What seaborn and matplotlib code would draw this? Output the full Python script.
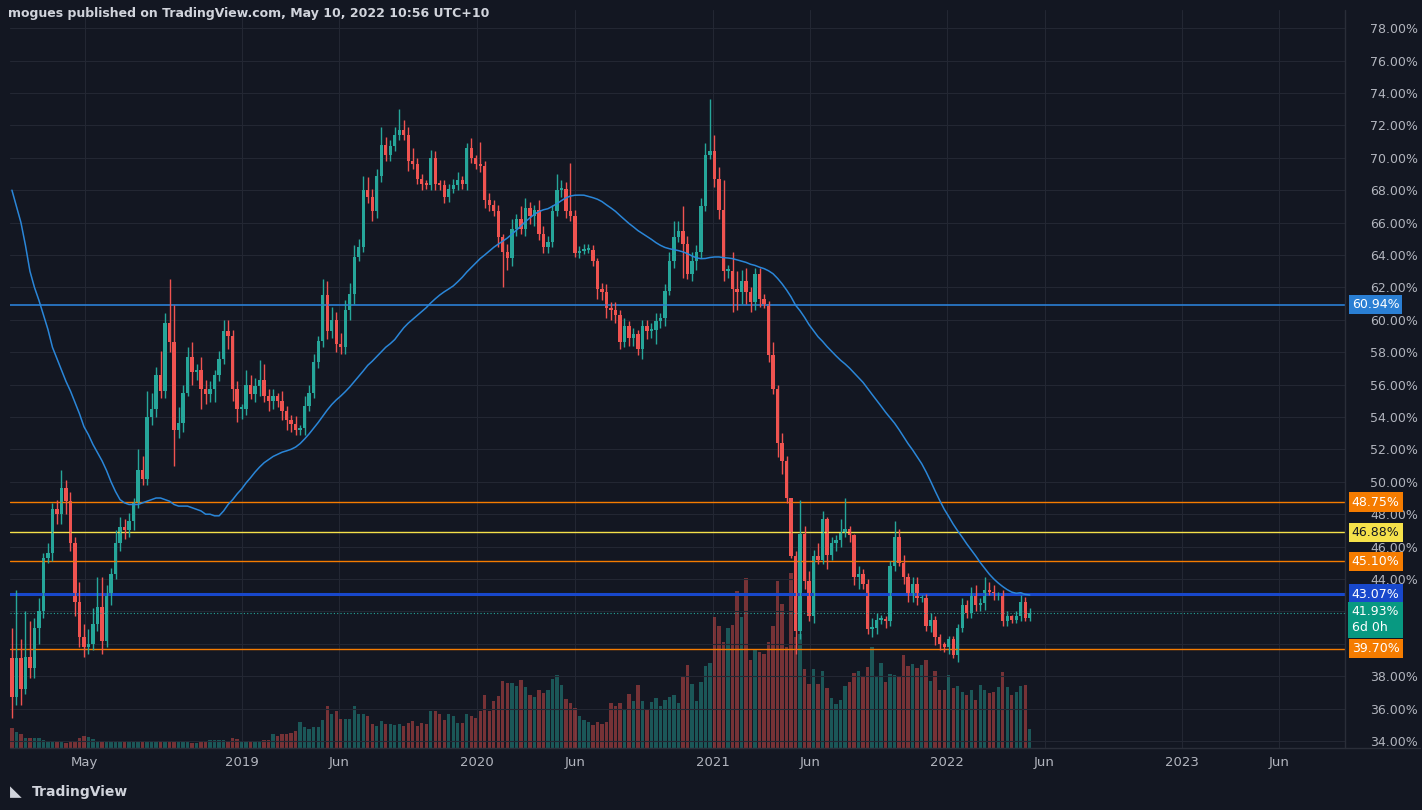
import numpy as np
import pandas as pd
import matplotlib
matplotlib.use("Agg")
import matplotlib.pyplot as plt
import matplotlib.transforms as mtransforms
import seaborn as sns

# ── data (weekly) ────────────────────────────────────────
START = "2018-01-08"
FIRST_OPEN = 39.1

closes = [36.7, 39.1, 37.2, 39.2, 38.5, 41.0, 42.0, 45.3, 45.6, 48.3,
          48.0, 49.6, 48.8, 46.2, 42.6, 40.4, 39.8, 40.0, 41.2, 42.3,
          40.2, 43.0, 44.3, 46.2, 47.2, 47.0, 47.6, 48.7, 50.7, 50.2,
          54.0, 54.5, 56.6, 55.6, 59.8, 58.6, 53.2, 53.6, 55.5, 57.7,
          56.8, 56.9, 55.7, 55.4, 55.7, 56.6, 57.6, 59.3, 59.0, 55.7,
          54.5, 54.5, 56.0, 55.4, 55.9, 56.3, 55.3, 55.0, 55.3, 55.0,
          54.4, 53.8, 53.55, 53.2, 53.3, 54.7, 55.5, 57.4, 58.7, 61.5,
          59.3, 60.0, 58.5, 58.3, 60.6, 61.6, 63.9, 64.5, 68.0, 67.6,
          66.7, 68.9, 70.8, 70.2, 70.7, 71.4, 71.7, 71.4, 69.8, 69.6,
          68.7, 68.4, 68.3, 70.0, 68.4, 68.3, 67.6, 68.1, 68.3, 68.6,
          68.4, 70.6, 70.0, 69.6, 69.5, 67.4, 67.1, 66.7, 65.1, 64.2,
          63.8, 65.6, 66.2, 65.6, 66.9, 66.4, 66.8, 65.3, 64.5, 64.8,
          66.7, 68.0, 68.1, 66.7, 66.4, 64.1, 64.25, 64.3, 64.3, 63.6,
          61.9, 61.7, 60.7, 60.6, 60.3, 58.6, 59.6, 58.9, 59.1, 58.2,
          59.6, 59.3, 59.4, 59.9, 60.1, 61.8, 63.6, 65.1, 65.5, 64.7,
          62.8, 63.6, 64.2, 67.0, 70.2, 70.4, 68.7, 66.8, 63.0, 63.0,
          61.9, 61.7, 62.4, 61.7, 61.1, 62.8, 61.3, 60.95, 57.8, 55.7,
          52.4, 51.3, 49.0, 45.4, 40.8, 46.8, 43.9, 41.7, 45.4, 45.2,
          47.7, 45.5, 46.2, 46.4, 46.9, 47.1, 46.7, 44.1, 44.3, 43.7,
          40.9, 41.0, 41.5, 41.5, 41.4, 44.8, 46.6, 45.0, 44.1, 43.0,
          43.7, 42.8, 42.8, 41.1, 41.5, 40.4, 40.0, 39.8, 40.3, 39.3,
          41.0, 42.4, 41.9, 43.0, 42.4, 42.5, 43.3, 43.2, 43.0, 43.0,
          41.4, 41.7, 41.5, 41.7, 42.6, 41.6, 41.93]

wick_up = [1.9, 4.2, 1.2, 2.8, 2.2, 0.6, 0.8, 0.3, 0.6, 0.4,
           0.6, 1.1, 0.5, 0.6, 0.4, 1.2, 0.8, 0.9, 1.0, 1.8,
           1.8, 0.6, 0.4, 0.8, 0.6, 0.5, 0.5, 0.3, 1.3, 0.9,
           1.6, 1.0, 0.5, 1.5, 0.6, 2.7, 2.3, 1.0, 0.5, 0.6,
           0.9, 0.4, 0.8, 0.6, 0.5, 0.3, 0.5, 0.7, 0.7, 0.4,
           0.5, 0.3, 0.9, 0.6, 0.5, 1.2, 1.0, 0.4, 0.4, 0.2,
           0.6, 0.3, 0.3, 0.5, 0.2, 0.6, 0.5, 0.5, 0.3, 1.0,
           0.9, 0.8, 0.5, 0.7, 0.6, 0.7, 0.7, 0.5, 0.9, 0.8,
           0.5, 0.4, 1.1, 0.5, 0.4, 0.5, 1.3, 0.6, 0.5, 0.8,
           0.4, 0.3, 0.2, 0.5, 0.4, 0.2, 0.3, 0.3, 0.4, 0.5,
           0.3, 0.3, 0.6, 0.2, 1.4, 0.3, 0.4, 0.3, 0.4, 0.2,
           0.5, 0.6, 0.3, 0.8, 0.6, 0.4, 0.3, 0.6, 0.5, 0.4,
           0.4, 1.0, 0.5, 0.4, 3.0, 0.4, 0.3, 0.4, 0.4, 0.3,
           0.2, 0.4, 0.5, 0.4, 0.5, 0.3, 0.5, 0.3, 0.4, 0.3,
           0.4, 0.4, 0.4, 0.5, 0.3, 0.4, 0.6, 1.0, 0.6, 1.5,
           0.5, 0.6, 0.4, 0.5, 0.7, 3.2, 1.0, 0.7, 1.8, 0.4,
           1.2, 1.1, 0.7, 0.8, 0.3, 0.4, 0.4, 0.3, 0.2, 0.8,
           0.3, 0.6, 0.3, 0.0, 0.3, 2.1, 0.5, 0.6, 0.4, 0.8,
           0.5, 0.1, 0.4, 0.3, 0.8, 1.9, 0.2, 0.1, 0.5, 0.3,
           0.3, 0.6, 0.4, 0.3, 0.2, 0.3, 1.0, 0.5, 0.5, 0.3,
           0.4, 0.4, 0.2, 0.3, 0.4, 0.2, 0.2, 0.1, 0.2, 0.2,
           0.2, 0.4, 0.3, 0.5, 0.6, 0.3, 0.8, 0.5, 0.4, 0.2,
           0.3, 0.3, 0.1, 0.3, 0.4, 0.3, 0.3]

wick_dn = [1.3, 0.5, 1.0, 0.3, 0.6, 0.6, 1.0, 0.4, 0.3, 0.5,
           0.6, 0.6, 0.8, 0.5, 0.9, 0.6, 0.6, 0.4, 0.4, 0.4,
           0.8, 0.4, 0.6, 0.3, 0.5, 0.5, 0.4, 0.6, 0.3, 0.4,
           0.4, 0.5, 0.5, 0.4, 0.4, 0.6, 2.2, 0.5, 0.5, 0.2,
           0.8, 0.5, 1.2, 0.6, 0.5, 0.8, 0.4, 0.3, 0.8, 0.7,
           0.8, 0.6, 0.4, 0.3, 0.5, 0.6, 0.4, 0.6, 0.5, 0.4,
           0.6, 0.6, 0.5, 0.3, 0.3, 0.4, 0.3, 0.3, 0.4, 0.4,
           0.5, 0.4, 0.5, 0.4, 0.4, 0.6, 0.6, 0.3, 0.3, 0.4,
           0.6, 0.4, 0.4, 0.4, 0.4, 0.3, 0.3, 0.3, 0.6, 0.3,
           0.3, 0.4, 0.2, 0.3, 0.4, 0.3, 0.4, 0.3, 0.3, 0.3,
           0.3, 0.4, 0.3, 0.3, 0.4, 0.5, 0.4, 0.3, 0.6, 2.2,
           0.7, 0.5, 0.4, 0.3, 0.4, 0.5, 0.6, 0.4, 0.4, 0.4,
           0.3, 0.3, 0.4, 0.4, 0.3, 0.2, 0.3, 0.2, 0.2, 0.3,
           0.6, 0.5, 0.6, 0.6, 0.5, 0.4, 0.3, 0.5, 0.5, 0.4,
           0.6, 0.5, 0.4, 0.9, 0.4, 0.5, 0.3, 0.4, 0.3, 2.1,
           0.3, 0.4, 0.5, 0.4, 0.3, 0.3, 0.5, 0.6, 0.6, 0.4,
           1.4, 1.1, 0.7, 0.7, 0.6, 0.5, 0.5, 0.2, 0.4, 0.3,
           0.9, 0.8, 0.3, 0.1, 1.4, 0.5, 0.5, 0.3, 0.4, 0.3,
           0.3, 0.9, 0.3, 0.5, 0.4, 0.3, 0.4, 0.5, 0.7, 0.3,
           0.3, 0.5, 0.4, 0.3, 0.4, 0.3, 0.3, 0.2, 0.4, 0.4,
           0.4, 0.4, 0.2, 0.3, 0.4, 0.5, 0.4, 0.3, 0.4, 0.2,
           0.4, 0.3, 0.3, 0.3, 0.4, 0.4, 0.4, 0.2, 0.3, 0.3,
           0.3, 0.3, 0.2, 0.2, 0.3, 0.2, 0.2]

volume = [20, 16, 14, 10, 10, 10, 10, 8, 7, 7,
          6, 6, 5, 6, 7, 10, 12, 11, 9, 7,
          7, 7, 6, 6, 6, 6, 6, 7, 7, 7,
          7, 6, 7, 6, 7, 6, 7, 6, 6, 6,
          5, 5, 6, 7, 8, 8, 8, 8, 6, 10,
          9, 7, 7, 7, 7, 7, 8, 8, 14, 12,
          14, 14, 15, 17, 26, 21, 19, 21, 21, 28,
          42, 34, 37, 29, 29, 29, 42, 34, 34, 32,
          24, 22, 27, 24, 24, 23, 24, 22, 25, 27,
          22, 25, 24, 37, 37, 34, 28, 34, 32, 25,
          25, 34, 32, 30, 37, 53, 37, 47, 52, 67,
          65, 65, 62, 68, 61, 53, 51, 58, 55, 58,
          69, 73, 63, 49, 45, 40, 32, 28, 26, 23,
          26, 24, 26, 45, 42, 45, 38, 54, 47, 63,
          47, 38, 46, 50, 42, 48, 51, 53, 45, 71,
          83, 64, 47, 66, 82, 85, 131, 122, 106, 120,
          123, 157, 131, 170, 88, 98, 96, 94, 106, 122,
          167, 144, 101, 175, 111, 114, 79, 64, 79, 64,
          77, 60, 50, 44, 48, 62, 66, 75, 77, 72,
          81, 101, 72, 85, 66, 74, 73, 71, 93, 82,
          84, 80, 83, 88, 67, 77, 58, 58, 73, 60,
          62, 56, 53, 58, 48, 63, 58, 55, 56, 61,
          76, 61, 53, 56, 62, 63, 19]

# 50-week average before the first 50 closes exist
ma_head = [68.0, 67.0, 66.0, 64.6, 63.0, 62.0, 61.2, 60.3, 59.4, 58.3,
           57.6, 56.9, 56.2, 55.6, 54.9, 54.2, 53.4, 52.9, 52.3, 51.8,
           51.3, 50.7, 50.0, 49.4, 48.9, 48.7, 48.6, 48.6, 48.6, 48.7,
           48.8, 48.9, 49.0, 49.0, 48.9, 48.8, 48.6, 48.5, 48.5, 48.5,
           48.4, 48.3, 48.2, 48.0, 48.0, 47.9, 47.9, 48.2, 48.6]

levels = [60.94, 48.75, 46.88, 45.10, 43.07, 39.70]
level_colors = ["#2a7fd4", "#f57c00", "#f5e14a", "#f57c00", "#1848cc", "#f57c00"]
level_text = ["#ffffff", "#ffffff", "#131722", "#ffffff", "#ffffff", "#ffffff"]
level_widths = [1.2, 1.0, 1.0, 1.0, 2.2, 1.0]

hidden_ticks = [40, 42]   # covered by the price / level tags

tick_dates = ["2018-05-01", "2019-01-01", "2019-06-01", "2020-01-01", "2020-06-01",
              "2021-01-01", "2021-06-01", "2022-01-01", "2022-06-01", "2023-01-01",
              "2023-06-01"]
tick_labels = ["May", "2019", "Jun", "2020", "Jun", "2021", "Jun", "2022", "Jun",
               "2023", "Jun"]

# ── frame ────────────────────────────────────────────────
df = pd.DataFrame({"date": pd.date_range(START, periods=len(closes), freq="W-MON"),
                   "close": closes, "up": wick_up, "dn": wick_dn, "vol": volume})
df["open"] = df["close"].shift(1).fillna(FIRST_OPEN)
df["high"] = df[["open", "close"]].max(axis=1) + df["up"]
df["low"] = df[["open", "close"]].min(axis=1) - df["dn"]
df["rise"] = df["close"] >= df["open"]
ma = df["close"].rolling(50).mean()
ma.iloc[:len(ma_head)] = ma_head
df["ma"] = ma

BG = "#131722"
GRID = "#232733"
UP, DOWN = "#26a69a", "#ef5350"
TXT = "#b2b5be"

sns.set_theme(style="dark", rc={"axes.facecolor": BG, "figure.facecolor": BG})

fig = plt.figure(figsize=(14.22, 8.10), dpi=100)
W, H = 1422, 810
pos = [10 / W, 1 - 748 / H, (1345 - 10) / W, (748 - 10) / H]
ax_vol = fig.add_axes(pos)
ax_vol.set_facecolor(BG)
ax = ax_vol.twinx()
ax.patch.set_visible(False)

x0 = pd.Timestamp(START) - pd.Timedelta(days=3)
x1 = pd.Timestamp(START) + pd.Timedelta(weeks=296)

# volume bars at bottom
vcol = np.where(df["rise"], UP, DOWN)
ax_vol.bar(df["date"], df["vol"], width=5.2, color=vcol, alpha=0.45, linewidth=0)
ax_vol.set_ylim(0, 738)
ax_vol.set_yticks([])
ax_vol.set_xlim(x0, x1)

# candles
ccol = np.where(df["rise"], UP, DOWN)
ax.vlines(df["date"], df["low"], df["high"], colors=ccol, linewidth=1)
body = (df["close"] - df["open"]).abs().clip(lower=0.12)
ax.bar(df["date"], body, bottom=df[["open", "close"]].min(axis=1), width=5.2,
       color=ccol, linewidth=0)

sns.lineplot(data=df, x="date", y="ma", ax=ax, color="#2a86d8", linewidth=1.1,
             legend=False)

# horizontal levels
blend = mtransforms.blended_transform_factory(ax.transAxes, ax.transData)
for lv, c, tc, lw in zip(levels, level_colors, level_text, level_widths):
    ax.axhline(lv, color=c, linewidth=lw, zorder=1)
    ax.text(1.005, lv, f"{lv:.2f}%", transform=blend, ha="left", va="center",
            fontsize=9, color=tc, clip_on=False, zorder=6,
            bbox=dict(boxstyle="square,pad=0.25", fc=c, ec="none"))
last = closes[-1]
ax.axhline(last, color=UP, linewidth=0.8, linestyle=(0, (1, 2)), zorder=1)
ax.text(1.005, last - 0.45, f"{last:.2f}%\n6d 0h", transform=blend, ha="left",
        va="center", fontsize=9, color="#ffffff", clip_on=False, zorder=6,
        linespacing=1.3, bbox=dict(boxstyle="square,pad=0.3", fc="#089981", ec="none"))

# axes styling
yt = np.arange(34, 79, 2)
ax.set_ylim(33.57, 79.12)
ax.set_yticks(yt)
ax.set_yticklabels(["" if v in hidden_ticks else f"{v:.2f}%" for v in yt])
ax.tick_params(axis="y", colors=TXT, labelsize=9, length=0, pad=18)
ax.set_xlim(x0, x1)
ax.set_xticks(pd.to_datetime(tick_dates))
ax_vol.set_xticks(pd.to_datetime(tick_dates))
ax_vol.set_xticklabels(tick_labels)
ax_vol.tick_params(axis="x", colors=TXT, labelsize=9.5, length=0, pad=6)
ax.tick_params(axis="x", length=0)
for v in yt:
    ax.axhline(v, color=GRID, linewidth=0.8, zorder=0)
for d in pd.to_datetime(tick_dates):
    ax_vol.axvline(d, color=GRID, linewidth=0.8, zorder=0)
ax.grid(False)
ax_vol.grid(False)
for a in (ax, ax_vol):
    for s in a.spines.values():
        s.set_visible(False)
ax.set_xlabel("")
ax.set_ylabel("")
ax_vol.set_xlabel("")

# right price-scale separator and bottom strip
fig.add_artist(plt.Line2D([1345 / W, 1345 / W], [1 - 748 / H, 1 - 10 / H],
                          color="#2a2e39", linewidth=1))
fig.add_artist(plt.Line2D([10 / W, 1 - 2 / W], [1 - 748 / H, 1 - 748 / H],
                          color="#2a2e39", linewidth=1))
fig.text(8 / W, 1 - 14 / H, "mogues published on TradingView.com, May 10, 2022 10:56 UTC+10",
         fontsize=9, color="#d1d4dc", fontweight="bold", va="center")
fig.text(32 / W, 1 - 792 / H, "TradingView", fontsize=10, color="#d1d4dc",
         fontweight="bold", va="center")
fig.text(10 / W, 1 - 792 / H, "\u25E3", fontsize=11, color="#d1d4dc", va="center")

fig.savefig("out.png", dpi=100, facecolor=BG)
